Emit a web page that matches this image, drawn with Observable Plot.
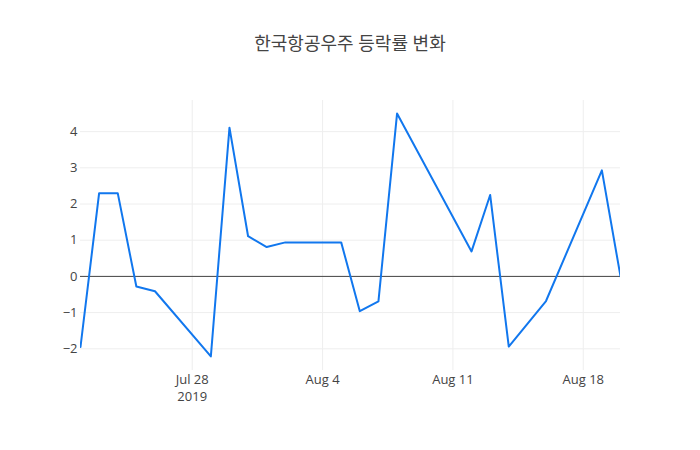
<!DOCTYPE html>
<html>
<head>
<meta charset="utf-8">
<script src="https://cdn.jsdelivr.net/npm/d3@7"></script>
<script src="https://cdn.jsdelivr.net/npm/@observablehq/plot@0.6"></script>
<style>
  body { margin: 0; background: #fff; }
  #title { width: 700px; height: 70px; box-sizing: border-box; padding-top: 33px; text-align: center;
    font-family: "Open Sans", "Noto Sans CJK KR", sans-serif; font-size: 18px; line-height: 20px; color: #444; }
  #chart svg { display: block; }
</style>
</head>
<body>
<div id="title">한국항공우주 등락률 변화</div>
<div id="chart"></div>
<script>
const dates = ["2019-07-22","2019-07-23","2019-07-24","2019-07-25","2019-07-26","2019-07-29","2019-07-30","2019-07-31",
  "2019-08-01","2019-08-02","2019-08-05","2019-08-06","2019-08-07","2019-08-08","2019-08-12","2019-08-13",
  "2019-08-14","2019-08-16","2019-08-19","2019-08-20"];
const changes = [-1.95, 2.30, 2.30, -0.28, -0.41, -2.21, 4.11, 1.11,
  0.81, 0.94, 0.94, -0.96, -0.69, 4.50, 0.69, 2.25,
  -1.94, -0.68, 2.93, 0.00];
const xTickDates = ["2019-07-28","2019-08-04","2019-08-11","2019-08-18"];
const yTicks = [-2, -1, 0, 1, 2, 3, 4];

const parse = d3.utcParse("%Y-%m-%d");
const data = dates.map((d, i) => ({date: parse(d), value: changes[i]}));
const xTicks = xTickDates.map(parse);
const fmt = d3.utcFormat("%b %-d");
const tickFmt = (d, i) => i === 0 ? fmt(d) + "\n" + d.getUTCFullYear() : fmt(d);
const yFmt = d => d < 0 ? "\u2212" + Math.abs(d) : String(d);

const chart = Plot.plot({
  width: 700,
  height: 380,
  marginTop: 30,
  marginBottom: 80,
  marginLeft: 80,
  marginRight: 80,
  style: {fontFamily: "'Open Sans', sans-serif", fontSize: "13px", color: "#444", background: "#fff"},
  x: {type: "utc", domain: [parse(dates[0]), parse(dates[dates.length - 1])], label: null},
  y: {domain: [-2.6, 4.86], label: null},
  marks: [
    Plot.gridX(xTicks, {stroke: "#eee", strokeOpacity: 1}),
    Plot.gridY(yTicks, {stroke: "#eee", strokeOpacity: 1}),
    Plot.axisX({ticks: xTicks, tickFormat: tickFmt, tickSize: 0, tickPadding: 1, lineHeight: 1.34, label: null}),
    Plot.axisY({ticks: yTicks, tickFormat: yFmt, tickSize: 0, tickPadding: 3, label: null}),
    Plot.ruleY([0], {stroke: "#444", strokeWidth: 1}),
    Plot.line(data, {x: "date", y: "value", stroke: "#1177ee", strokeWidth: 2, clip: true})
  ]
});
document.getElementById("chart").appendChild(chart);
</script>
</body>
</html>
